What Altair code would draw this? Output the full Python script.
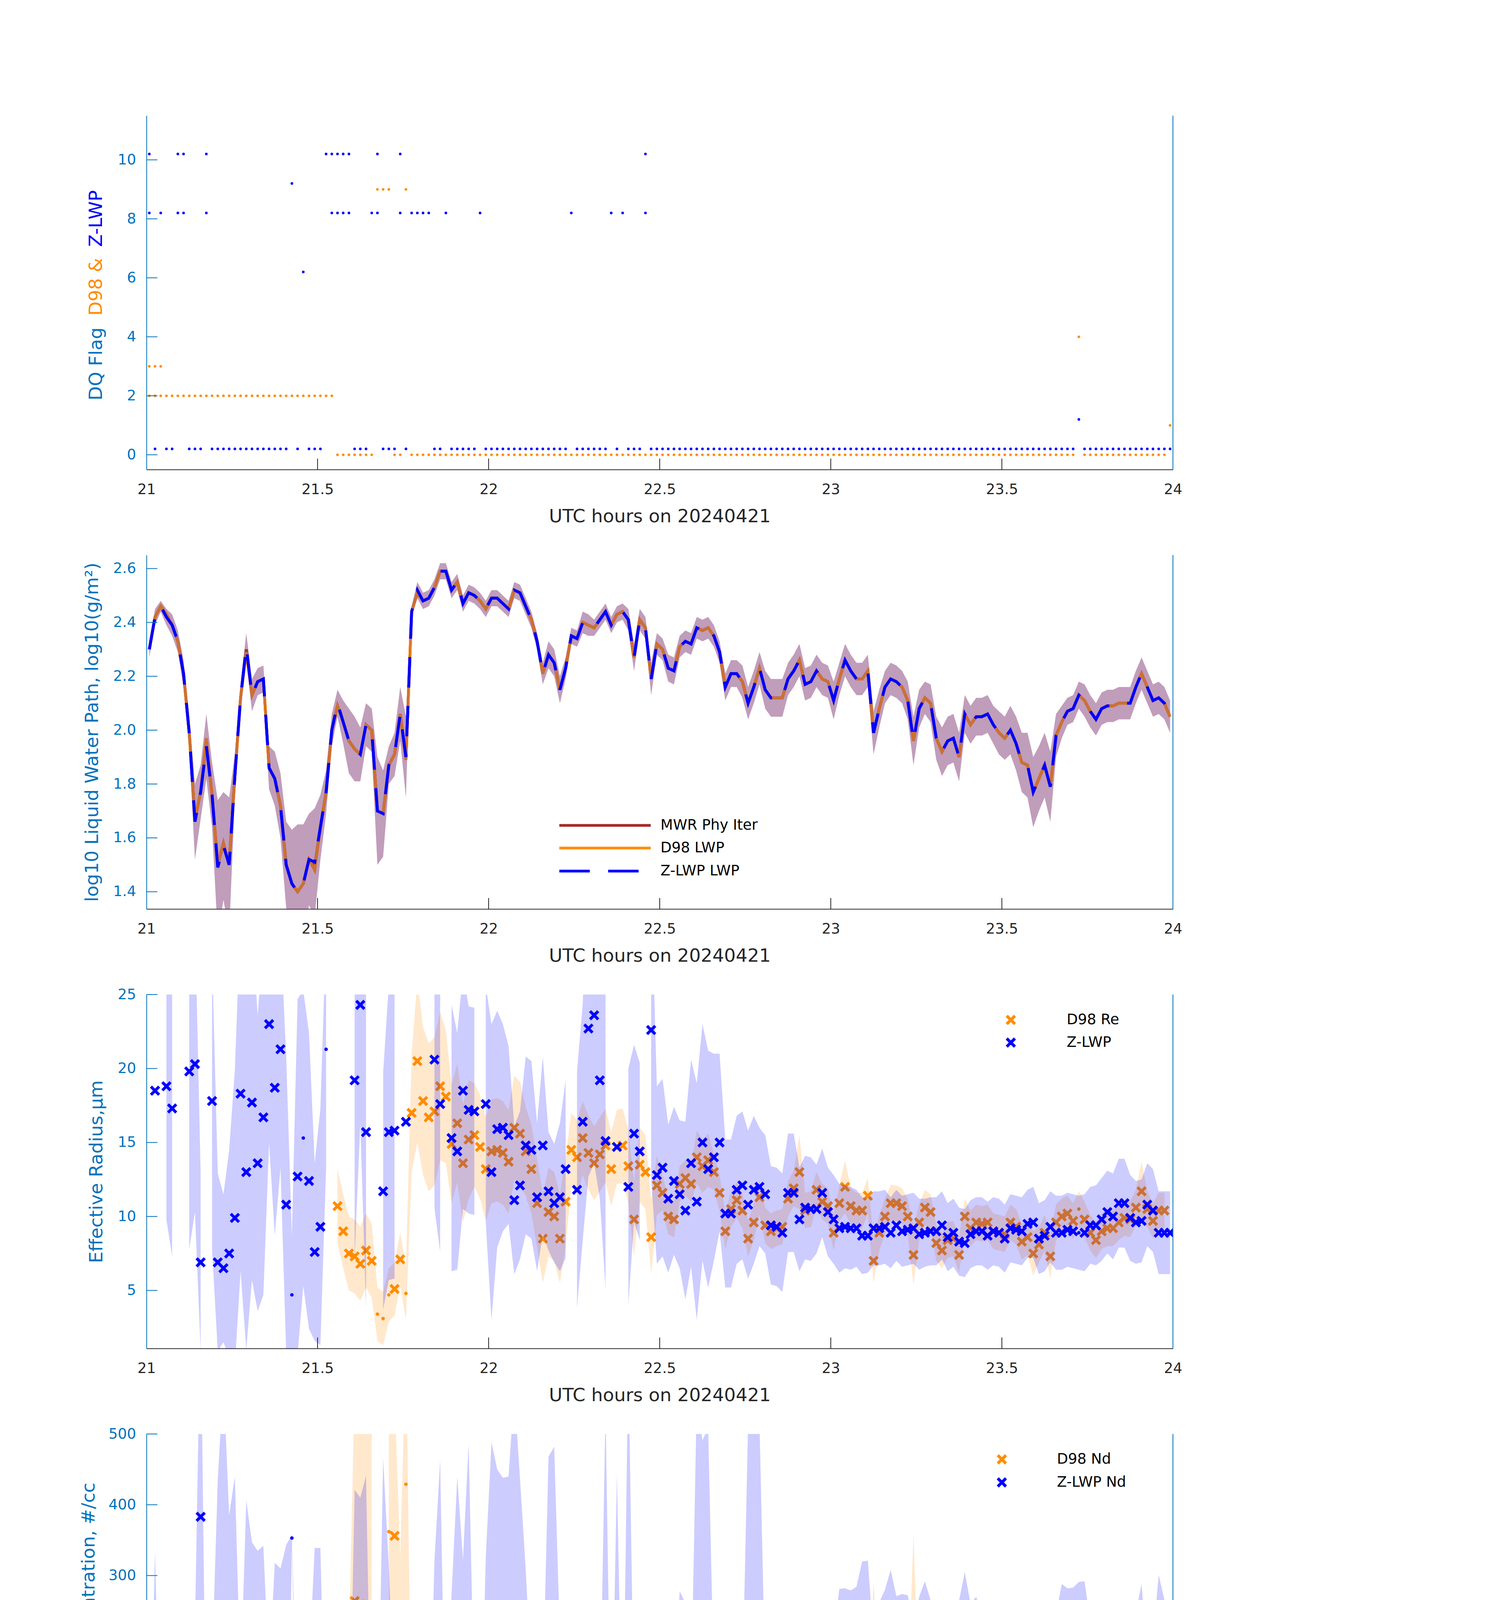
import altair as alt
import pandas as pd

# ---------------- data (one value per minute, 21:00-24:00 UTC) ----------------
N = 180
T = [21 + (i + 0.5) / 60 for i in range(N)]
X_TICKS = [21, 21.5, 22, 22.5, 23, 23.5, 24]
X_TITLE = "UTC hours on 20240421"

ZLWP_FLAG = [
    10, 0, 8, 0, 0, 10, 10, 0, 0, 0, 10, 0, 0, 0, 0, 0, 0, 0, 0, 0, 0, 0, 0, 0, 0, 9, 0, 6, 0, 0,
    0, 10, 10, 10, 10, 10, 0, 0, 0, 8, 10, 0, 0, 0, 10, 0, 8, 8, 8, 8, 0, 0, 8, 0, 0, 0, 0, 0, 8, 0,
    0, 0, 0, 0, 0, 0, 0, 0, 0, 0, 0, 0, 0, 0, 8, 0, 0, 0, 0, 0, 0, 8, 0, 8, 0, 0, 0, 10, 0, 0,
    0, 0, 0, 0, 0, 0, 0, 0, 0, 0, 0, 0, 0, 0, 0, 0, 0, 0, 0, 0, 0, 0, 0, 0, 0, 0, 0, 0, 0, 0,
    0, 0, 0, 0, 0, 0, 0, 0, 0, 0, 0, 0, 0, 0, 0, 0, 0, 0, 0, 0, 0, 0, 0, 0, 0, 0, 0, 0, 0, 0,
    0, 0, 0, 0, 0, 0, 0, 0, 0, 0, 0, 0, 0, 1, 0, 0, 0, 0, 0, 0, 0, 0, 0, 0, 0, 0, 0, 0, 0, 0]
ZLWP_FLAG2_IDX = [0, 5, 6, 10, 32, 33, 34, 35, 40, 44, 87]   # second flag (8) at these minutes
D98_FLAG = [
    2, 2, 2, 2, 2, 2, 2, 2, 2, 2, 2, 2, 2, 2, 2, 2, 2, 2, 2, 2, 2, 2, 2, 2, 2, 2, 2, 2, 2, 2,
    2, 2, 2, 0, 0, 0, 0, 0, 0, 0, 9, 9, 9, 0, 0, 9, 0, 0, 0, 0, 0, 0, 0, 0, 0, 0, 0, 0, 0, 0,
    0, 0, 0, 0, 0, 0, 0, 0, 0, 0, 0, 0, 0, 0, 0, 0, 0, 0, 0, 0, 0, 0, 0, 0, 0, 0, 0, 0, 0, 0,
    0, 0, 0, 0, 0, 0, 0, 0, 0, 0, 0, 0, 0, 0, 0, 0, 0, 0, 0, 0, 0, 0, 0, 0, 0, 0, 0, 0, 0, 0,
    0, 0, 0, 0, 0, 0, 0, 0, 0, 0, 0, 0, 0, 0, 0, 0, 0, 0, 0, 0, 0, 0, 0, 0, 0, 0, 0, 0, 0, 0,
    0, 0, 0, 0, 0, 0, 0, 0, 0, 0, 0, 0, 0, 4, 0, 0, 0, 0, 0, 0, 0, 0, 0, 0, 0, 0, 0, 0, 0, 1]
D98_FLAG2_IDX = [0, 1, 2]   # second flag (3) at these minutes

LWP_Z = [
    2.30, 2.42, 2.46, 2.42, 2.39, 2.33, 2.21, 1.99, 1.66, 1.77,
    1.94, 1.76, 1.49, 1.57, 1.50, 1.83, 2.12, 2.31, 2.13, 2.18,
    2.19, 1.86, 1.82, 1.72, 1.50, 1.43, 1.40, 1.43, 1.52, 1.51,
    1.64, 1.77, 2.00, 2.10, 2.03, 1.96, 1.93, 1.91, 2.02, 2.00,
    1.70, 1.69, 1.87, 1.91, 2.06, 1.90, 2.44, 2.52, 2.48, 2.49,
    2.53, 2.59, 2.59, 2.52, 2.55, 2.47, 2.51, 2.50, 2.48, 2.45,
    2.49, 2.49, 2.47, 2.45, 2.52, 2.51, 2.46, 2.41, 2.33, 2.21,
    2.28, 2.25, 2.15, 2.23, 2.35, 2.34, 2.40, 2.39, 2.38, 2.41,
    2.44, 2.39, 2.43, 2.44, 2.41, 2.27, 2.41, 2.38, 2.19, 2.32,
    2.30, 2.23, 2.22, 2.31, 2.33, 2.32, 2.38, 2.37, 2.38, 2.35,
    2.29, 2.16, 2.21, 2.21, 2.18, 2.10, 2.16, 2.23, 2.15, 2.12,
    2.12, 2.12, 2.19, 2.22, 2.26, 2.17, 2.18, 2.22, 2.19, 2.18,
    2.11, 2.19, 2.26, 2.22, 2.19, 2.19, 2.22, 1.99, 2.08, 2.16,
    2.19, 2.18, 2.16, 2.11, 1.96, 2.08, 2.12, 2.10, 1.97, 1.92,
    1.96, 1.97, 1.90, 2.06, 2.02, 2.05, 2.05, 2.06, 2.02, 1.99,
    1.97, 2.00, 1.95, 1.88, 1.87, 1.77, 1.82, 1.87, 1.79, 1.98,
    2.03, 2.07, 2.08, 2.13, 2.11, 2.07, 2.04, 2.08, 2.09, 2.09,
    2.10, 2.10, 2.10, 2.16, 2.21, 2.16, 2.11, 2.12, 2.10, 2.05]
LWP_D98 = [
    2.30, 2.42, 2.46, 2.43, 2.39, 2.33, 2.21, 1.99, 1.67, 1.77,
    1.97, 1.76, 1.50, 1.58, 1.50, 1.83, 2.12, 2.29, 2.13, 2.18,
    2.19, 1.86, 1.82, 1.72, 1.50, 1.43, 1.40, 1.43, 1.52, 1.48,
    1.64, 1.77, 2.00, 2.09, 2.03, 1.96, 1.93, 1.91, 2.02, 2.00,
    1.70, 1.69, 1.87, 1.91, 2.06, 1.89, 2.44, 2.51, 2.48, 2.49,
    2.53, 2.59, 2.59, 2.52, 2.55, 2.47, 2.51, 2.50, 2.48, 2.45,
    2.49, 2.49, 2.47, 2.45, 2.52, 2.51, 2.46, 2.41, 2.33, 2.21,
    2.28, 2.25, 2.15, 2.23, 2.35, 2.34, 2.40, 2.39, 2.38, 2.41,
    2.44, 2.39, 2.43, 2.44, 2.41, 2.27, 2.41, 2.38, 2.19, 2.32,
    2.30, 2.23, 2.22, 2.31, 2.33, 2.32, 2.38, 2.37, 2.38, 2.35,
    2.29, 2.16, 2.21, 2.21, 2.18, 2.10, 2.16, 2.23, 2.15, 2.12,
    2.12, 2.12, 2.19, 2.22, 2.26, 2.17, 2.18, 2.22, 2.19, 2.18,
    2.11, 2.19, 2.26, 2.22, 2.19, 2.19, 2.22, 1.99, 2.08, 2.16,
    2.19, 2.18, 2.16, 2.11, 1.96, 2.08, 2.12, 2.10, 1.97, 1.92,
    1.96, 1.97, 1.90, 2.06, 2.02, 2.05, 2.05, 2.06, 2.02, 1.99,
    1.97, 2.00, 1.95, 1.88, 1.87, 1.77, 1.82, 1.87, 1.79, 1.98,
    2.03, 2.07, 2.08, 2.13, 2.11, 2.07, 2.04, 2.08, 2.09, 2.09,
    2.10, 2.10, 2.10, 2.16, 2.21, 2.16, 2.11, 2.12, 2.10, 2.05]
LWP_MWR = [
    2.30, 2.42, 2.46, 2.43, 2.39, 2.33, 2.21, 1.99, 1.67, 1.77,
    1.96, 1.76, 1.50, 1.58, 1.50, 1.83, 2.12, 2.30, 2.13, 2.18,
    2.19, 1.86, 1.82, 1.72, 1.50, 1.43, 1.40, 1.43, 1.52, 1.49,
    1.64, 1.77, 2.00, 2.09, 2.03, 1.96, 1.93, 1.91, 2.02, 2.00,
    1.70, 1.69, 1.87, 1.91, 2.06, 1.89, 2.44, 2.51, 2.48, 2.49,
    2.53, 2.59, 2.59, 2.52, 2.55, 2.47, 2.51, 2.50, 2.48, 2.45,
    2.49, 2.49, 2.47, 2.45, 2.52, 2.51, 2.46, 2.41, 2.33, 2.21,
    2.28, 2.25, 2.15, 2.23, 2.35, 2.34, 2.40, 2.39, 2.38, 2.41,
    2.44, 2.39, 2.43, 2.44, 2.41, 2.27, 2.41, 2.38, 2.19, 2.32,
    2.30, 2.23, 2.22, 2.31, 2.33, 2.32, 2.38, 2.37, 2.38, 2.35,
    2.29, 2.16, 2.21, 2.21, 2.18, 2.10, 2.16, 2.23, 2.15, 2.12,
    2.12, 2.12, 2.19, 2.22, 2.26, 2.17, 2.18, 2.22, 2.19, 2.18,
    2.11, 2.19, 2.26, 2.22, 2.19, 2.19, 2.22, 1.99, 2.08, 2.16,
    2.19, 2.18, 2.16, 2.11, 1.96, 2.08, 2.12, 2.10, 1.97, 1.92,
    1.96, 1.97, 1.90, 2.06, 2.02, 2.05, 2.05, 2.06, 2.02, 1.99,
    1.97, 2.00, 1.95, 1.88, 1.87, 1.77, 1.82, 1.87, 1.79, 1.98,
    2.03, 2.07, 2.08, 2.13, 2.11, 2.07, 2.04, 2.08, 2.09, 2.09,
    2.10, 2.10, 2.10, 2.16, 2.21, 2.16, 2.11, 2.12, 2.10, 2.05]
LWP_ERR = [
    .03, .03, .02, .03, .04, .04, .05, .06, .14, .10,
    .12, .12, .25, .20, .25, .08, .05, .05, .06, .05,
    .05, .08, .10, .12, .16, .20, .25, .22, .17, .20,
    .12, .08, .06, .05, .08, .12, .12, .10, .08, .08,
    .20, .16, .07, .08, .10, .15, .02, .03, .03, .03,
    .03, .03, .03, .03, .03, .03, .03, .03, .03, .03,
    .03, .03, .03, .03, .03, .03, .03, .03, .03, .04,
    .05, .05, .05, .04, .03, .03, .04, .04, .03, .03,
    .03, .03, .03, .03, .04, .05, .04, .04, .06, .04,
    .04, .05, .05, .04, .04, .04, .04, .04, .04, .04,
    .04, .05, .05, .05, .06, .06, .06, .06, .07, .07,
    .07, .07, .06, .06, .06, .06, .06, .06, .06, .06,
    .07, .06, .06, .06, .06, .06, .06, .08, .07, .06,
    .06, .06, .06, .07, .09, .07, .06, .07, .08, .09,
    .09, .09, .09, .07, .07, .07, .07, .07, .07, .08,
    .08, .09, .10, .11, .12, .13, .12, .12, .13, .08,
    .06, .05, .05, .05, .06, .06, .06, .06, .06, .06,
    .06, .06, .06, .06, .06, .06, .06, .06, .06, .06]

RE_Z = [
    None, 18.5, None, 18.8, 17.3, None, None, 19.8, 20.3, 6.9,
    None, 17.8, 6.9, 6.5, 7.5, 9.9, 18.3, 13.0, 17.7, 13.6,
    16.7, 23.0, 18.7, 21.3, 10.8, 4.7, 12.7, 15.3, 12.4, 7.6,
    9.3, 21.3, None, None, None, None, 19.2, 24.3, 15.7, None,
    None, 11.7, 15.7, 15.8, None, 16.4, None, None, None, None,
    20.6, 17.6, None, 15.3, 14.4, 18.5, 17.2, 17.1, None, 17.6,
    13.0, 15.9, 16.0, 15.5, 11.1, 12.1, 14.8, 14.5, 11.3, 14.8,
    11.7, 10.9, 11.3, 13.2, None, 11.8, 16.4, 22.7, 23.6, 19.2,
    15.1, None, 14.7, None, 12.0, 15.6, 14.4, None, 22.6, 12.8,
    13.3, 11.2, 12.4, 11.5, 10.4, 13.6, 11.0, 15.0, 13.2, 14.0,
    15.0, 10.2, 10.2, 11.8, 12.1, 10.8, 11.8, 12.0, 11.5, 9.4,
    9.3, 8.9, 11.6, 11.6, 9.8, 10.6, 10.5, 10.5, 11.6, 10.3,
    9.8, 9.2, 9.3, 9.2, 9.2, 8.7, 8.7, 9.2, 9.2, 9.3,
    8.9, 9.4, 9.0, 9.1, 9.2, 8.8, 8.9, 9.0, 9.0, 9.4,
    8.6, 8.9, 8.3, 8.2, 8.8, 9.0, 9.0, 8.7, 9.0, 8.9,
    8.5, 9.2, 9.1, 9.0, 9.5, 9.6, 8.5, 8.7, 9.3, 8.9,
    8.9, 9.1, 9.0, 8.9, 8.9, 9.4, 9.4, 9.8, 10.3, 10.0,
    10.9, 10.9, 9.9, 9.6, 9.7, 10.8, 10.4, 8.9, 8.9, 8.9]
RE_Z_ERR = [
    0, 8, 0, 9, 10, 0, 0, 12, 10, 6,
    0, 10, 6, 5, 7, 10, 12, 12, 12, 10,
    12, 8, 10, 8, 10, 4, 12, 10, 10, 6,
    8, 8, 0, 0, 0, 0, 12, 8, 12, 0,
    0, 8, 10, 10, 0, 10, 0, 0, 0, 0,
    10, 10, 0, 9, 8, 8, 7, 7, 0, 8,
    10, 8, 7, 6, 5, 5, 6, 6, 5, 6,
    4, 4, 5, 6, 0, 8, 8, 10, 10, 8,
    10, 0, 8, 0, 8, 6, 6, 0, 10, 6,
    6, 5, 5, 5, 6, 7, 8, 8, 8, 7,
    6, 5, 5, 5, 5, 5, 5, 4, 4, 4,
    4, 4, 4, 4, 3.5, 3.5, 3.5, 3, 3, 3,
    3, 3, 2.8, 2.8, 2.6, 2.6, 2.5, 2.5, 2.5, 2.5,
    2.4, 2.4, 2.4, 2.4, 2.4, 2.4, 2.3, 2.3, 2.3, 2.3,
    2.3, 2.3, 2.3, 2.3, 2.3, 2.3, 2.3, 2.3, 2.3, 2.3,
    2.3, 2.3, 2.3, 2.3, 2.3, 2.4, 2.4, 2.4, 2.4, 2.5,
    2.5, 2.5, 2.5, 2.5, 2.6, 2.6, 2.7, 2.8, 2.8, 2.9,
    3.0, 3.0, 2.9, 2.8, 2.8, 2.8, 2.8, 2.8, 2.8, 2.8]
RE_D = [
    None, None, None, None, None, None, None, None, None, None,
    None, None, None, None, None, None, None, None, None, None,
    None, None, None, None, None, None, None, None, None, None,
    None, None, None, 10.7, 9.0, 7.5, 7.3, 6.8, 7.7, 7.0,
    3.4, 3.1, 4.7, 5.1, 7.1, 4.8, 17.0, 20.5, 17.8, 16.7,
    17.1, 18.8, 18.1, 14.9, 16.3, 13.6, 15.2, 15.5, 14.7, 13.2,
    14.4, 14.5, 14.3, 13.7, 16.0, 15.6, 14.4, 13.2, 10.9, 8.5,
    10.3, 10.0, 8.5, 11.0, 14.5, 14.0, 15.3, 14.3, 13.6, 14.2,
    14.8, 13.2, 14.7, 14.8, 13.4, 9.8, 13.5, 13.0, 8.6, 12.1,
    11.6, 10.0, 9.8, 12.2, 12.6, 12.2, 14.0, 13.4, 13.8, 13.0,
    11.6, 9.0, 10.5, 11.1, 10.4, 8.5, 9.6, 11.3, 9.4, 9.0,
    9.2, 9.3, 11.2, 11.9, 13.0, 10.4, 10.5, 11.8, 11.0, 10.7,
    8.9, 10.9, 12.0, 10.7, 10.4, 10.4, 11.4, 7.0, 8.9, 10.0,
    10.9, 10.9, 10.7, 10.0, 7.4, 9.6, 10.6, 10.3, 8.2, 7.7,
    8.4, 8.5, 7.4, 10.0, 9.2, 9.6, 9.5, 9.6, 9.0, 8.9,
    8.8, 9.6, 9.3, 8.3, 8.6, 7.5, 8.1, 8.9, 7.3, 9.6,
    10.0, 10.2, 9.7, 10.5, 9.8, 8.9, 8.4, 9.0, 9.2, 9.2,
    9.6, 9.9, 9.8, 10.6, 11.7, 10.5, 9.7, 10.4, 10.4, None]
RE_D_ERR = [
    0, 0, 0, 0, 0, 0, 0, 0, 0, 0,
    0, 0, 0, 0, 0, 0, 0, 0, 0, 0,
    0, 0, 0, 0, 0, 0, 0, 0, 0, 0,
    0, 0, 0, 2.5, 2.5, 2.5, 2.5, 2.5, 2.5, 2.5,
    1.8, 1.8, 1.8, 1.8, 1.8, 1.8, 4, 5.5, 5, 5,
    5, 5, 4.5, 4, 4, 4, 4, 3.5, 3.5, 3.5,
    3.5, 3.5, 3.5, 3.5, 3.5, 3.5, 3, 3, 3, 3,
    3, 3, 3, 3, 2.5, 2.5, 2.5, 2.5, 2.5, 2.5,
    2.5, 2.5, 2.5, 2.5, 2.5, 2.5, 2.5, 2.5, 2.5, 2,
    1.2, 1.2, 1.2, 1.2, 1.2, 1.2, 1.8, 1.8, 1.8, 1.2,
    1.2, 1.2, 1.2, 1.2, 1.2, 1.2, 1.2, 1.2, 1.2, 1.2,
    1.2, 1.2, 1.2, 1.2, 2.5, 1.2, 1.2, 1.2, 1.2, 1.2,
    1.2, 1.2, 1.8, 1.2, 1.2, 1.2, 1.2, 1.5, 1.2, 1.2,
    1.2, 1.2, 1.2, 1.2, 2.0, 1.2, 1.2, 1.2, 1.2, 1.2,
    1.2, 1.2, 1.2, 1.2, 1.2, 1.2, 1.2, 1.2, 1.2, 1.2,
    1.2, 1.2, 1.2, 1.2, 1.2, 1.5, 1.2, 1.2, 1.5, 1.2,
    1.2, 1.2, 1.2, 1.2, 1.2, 1.2, 1.2, 1.2, 1.2, 1.2,
    1.2, 1.2, 1.2, 1.2, 2.0, 1.2, 1.2, 1.2, 1.2, 1.2]

ND_Z = [
    1, 84, 8, 52, 74, 5.5, 3.8, 14, 8, 383,
    3.8, 23, 135, 228, 85, 140, 25, 206, 47, 85,
    42, 10, 18, 10, 43, 353, 7, 8, 18, 39,
    39, 5, 4, 3, 4, 2, 21, 10, 41, 7,
    2.5, 66, 12, 20, 2.5, 13, 16, 21, 12, 7,
    21, 63, 6, 124, 139, 23, 87, 46, 11, 26,
    88, 50, 38, 40, 161, 137, 50, 47, 84, 32,
    68, 82, 63, 56, 6, 87, 35, 15, 13, 23,
    136, 8, 144, 13, 213, 28, 56, 5, 11, 58,
    51, 82, 52, 78, 141, 47, 101, 41, 59, 48,
    39, 93, 108, 69, 59, 67, 67, 67, 63, 116,
    117, 134, 68, 68, 132, 83, 89, 95, 68, 100,
    96, 141, 142, 139, 144, 170, 181, 90, 122, 130,
    168, 141, 144, 142, 114, 140, 152, 135, 105, 95,
    134, 124, 135, 165, 130, 150, 126, 142, 134, 129,
    144, 117, 114, 98, 83, 65, 129, 126, 72, 125,
    148, 142, 133, 151, 152, 115, 105, 96, 83, 91,
    70, 71, 97, 119, 138, 74, 88, 151, 136, 125]
ND_Z_ERR = [
    2, 250, 5, 150, 120, 5, 5, 200, 220, 300,
    5, 150, 300, 350, 300, 300, 120, 200, 300, 250,
    300, 150, 300, 300, 300, 5, 50, 5, 150, 300,
    300, 5, 5, 5, 5, 5, 400, 400, 400, 5,
    5, 400, 300, 100, 5, 60, 5, 5, 5, 5,
    300, 400, 5, 150, 300, 300, 400, 60, 5, 300,
    400, 400, 400, 400, 400, 300, 260, 100, 150, 100,
    400, 400, 150, 100, 5, 150, 70, 30, 30, 60,
    400, 5, 300, 5, 400, 60, 80, 5, 30, 60,
    60, 70, 60, 200, 120, 80, 450, 450, 450, 100,
    90, 100, 90, 80, 80, 450, 450, 450, 90, 100,
    110, 120, 80, 80, 120, 100, 100, 100, 100, 110,
    120, 140, 140, 140, 140, 150, 140, 120, 140, 150,
    140, 130, 130, 130, 120, 130, 140, 130, 110, 100,
    130, 130, 130, 140, 130, 120, 120, 120, 120, 120,
    110, 100, 100, 100, 100, 90, 120, 120, 100, 120,
    140, 140, 150, 140, 140, 120, 110, 100, 100, 100,
    90, 90, 100, 130, 150, 110, 120, 150, 130, 130]
ND_D = [
    None, None, None, None, None, None, None, None, None, None,
    None, None, None, None, None, None, None, None, None, None,
    None, None, None, None, None, None, None, None, None, None,
    None, None, None, 46, 57, 87, 264, 259, 220, 220,
    None, None, 362, 356, 127, 429, 32, 19, 25, 31,
    34, 28, 28, 46, 41, 57, 48, 44, 48, 59,
    49, 54, 53, 58, 37, 41, 52, 56, 94, 156,
    93, 110, 144, 83, 46, 51, 46, 48, 54, 53,
    42, 59, 48, 42, 54, 102, 56, 66, 160, 76,
    76, 106, 111, 68, 68, 64, 48, 53, 49, 54,
    70, 143, 91, 82, 95, 138, 112, 73, 112, 115,
    116, 116, 73, 59, 59, 95, 87, 71, 81, 87,
    122, 79, 59, 86, 96, 96, 81, 191, 129, 94,
    78, 78, 80, 94, 210, 100, 81, 82, 120, 167,
    141, 133, 175, 83, 116, 116, 114, 95, 126, 106,
    131, 92, 99, 131, 120, 144, 138, 99, 155, 84,
    99, 86, 96, 86, 99, 117, 130, 116, 107, 104,
    92, 91, 92, 84, 66, 78, 91, 91, 78, None]
ND_D_ERR = [
    0, 0, 0, 0, 0, 0, 0, 0, 0, 0,
    0, 0, 0, 0, 0, 0, 0, 0, 0, 0,
    0, 0, 0, 0, 0, 0, 0, 0, 0, 0,
    0, 0, 0, 40, 50, 120, 300, 300, 300, 300,
    0, 0, 200, 200, 200, 200, 20, 20, 20, 20,
    20, 20, 20, 30, 35, 35, 35, 35, 35, 35,
    35, 35, 35, 35, 35, 35, 35, 40, 80, 100,
    80, 80, 100, 60, 35, 35, 35, 35, 35, 35,
    35, 35, 35, 35, 35, 60, 40, 40, 80, 40,
    30, 30, 30, 30, 30, 30, 30, 30, 30, 30,
    30, 60, 30, 30, 30, 50, 30, 30, 30, 30,
    30, 30, 30, 30, 30, 30, 30, 30, 30, 30,
    30, 30, 30, 30, 30, 30, 30, 100, 30, 30,
    30, 30, 30, 30, 150, 30, 30, 30, 30, 80,
    30, 30, 60, 30, 30, 30, 30, 30, 30, 30,
    30, 30, 30, 30, 30, 70, 30, 30, 70, 30,
    30, 30, 30, 30, 30, 30, 30, 30, 30, 30,
    30, 30, 30, 30, 30, 30, 30, 30, 30, 30]

OD_Z = [
    8.0, 22.2, 13.0, 21.5, 21.4, 9.3, 6.9, 7.2, 3.6, 13.0,
    5.2, 5.0, 7.0, 9.4, 6.5, 10.3, 10.7, 25.1, 12.0, 16.7,
    14.3, 4.8, 5.5, 3.7, 4.8, 9.2, 3.1, 2.7, 4.2, 6.2,
    7.3, 4.4, 6.1, 5.8, 6.2, 4.4, 6.9, 5.3, 10.7, 6.1,
    2.7, 6.5, 7.3, 8.0, 6.0, 7.4, 16.5, 19.1, 17.0, 16.2,
    25.2, 34.0, 17.5, 33.0, 38.6, 24.4, 28.8, 28.7, 17.9, 24.3,
    36.3, 29.4, 28.0, 27.6, 45.3, 41.3, 30.3, 27.4, 28.3, 16.7,
    24.7, 24.4, 19.1, 19.8, 11.2, 28.2, 23.3, 16.7, 15.4, 20.5,
    28.0, 14.1, 27.9, 14.2, 31.7, 18.1, 27.4, 10.3, 10.4, 24.6,
    22.6, 22.8, 20.0, 26.9, 31.4, 23.1, 33.0, 23.7, 27.4, 24.5,
    19.5, 21.3, 23.8, 21.1, 18.9, 17.3, 18.8, 21.6, 18.5, 21.6,
    21.5, 22.3, 20.8, 21.8, 28.4, 20.9, 21.8, 23.9, 20.3, 22.5,
    20.0, 27.4, 30.4, 27.5, 25.9, 27.1, 29.4, 16.2, 21.1, 23.8,
    27.1, 25.0, 24.4, 22.4, 15.2, 21.2, 23.1, 21.5, 16.1, 13.5,
    15.8, 15.9, 14.6, 21.4, 18.3, 19.3, 18.8, 20.0, 17.4, 16.9,
    16.6, 16.9, 15.3, 12.7, 11.9, 9.5, 11.7, 13.0, 10.0, 16.1,
    18.3, 19.9, 20.7, 23.5, 22.3, 19.2, 18.0, 18.8, 18.1, 18.7,
    17.5, 17.6, 19.7, 23.0, 25.9, 20.5, 19.0, 22.6, 21.5, 19.2]
OD_Z_ERR = [
    1, 12, 1, 15, 15, 1, 1, 4, 3, 20,
    1, 3, 4, 20, 5, 25, 25, 20, 10, 10,
    8, 30, 30, 2, 3, 1, 2, 1, 3, 15,
    20, 1, 1, 1, 1, 1, 30, 5, 30, 1,
    1, 30, 5, 4, 1, 4, 12, 12, 12, 12,
    30, 15, 1, 15, 10, 8, 15, 15, 1, 6,
    10, 10, 8, 8, 20, 15, 8, 10, 10, 12,
    10, 10, 6, 5, 1, 20, 6, 5, 5, 6,
    25, 1, 25, 1, 10, 8, 10, 1, 10, 6,
    6, 6, 6, 10, 12, 14, 18, 14, 12, 8,
    6, 5, 5, 5, 5, 5, 5, 5, 5, 5,
    6, 6, 6, 6, 6, 5, 5, 5, 5, 5,
    6, 7, 8, 8, 7, 7, 7, 6, 6, 6,
    6, 6, 6, 6, 5, 5, 5, 5, 5, 5,
    4, 4, 4, 4, 4, 4, 4, 4, 4, 4,
    4, 4, 4, 4, 4, 4, 4, 4, 4, 4,
    5, 5, 5, 5, 5, 5, 5, 5, 5, 5,
    5, 5, 5, 6, 6, 5, 5, 5, 5, 5]
OD_D = [
    None, None, None, None, None, None, None, None, None, None,
    None, None, None, None, None, None, None, None, None, None,
    None, None, None, None, None, None, None, None, None, None,
    None, None, None, 17.9, 18.4, 18.3, 17.5, 18.2, 20.3, 21.5,
    22.1, 23.5, 23.8, 24.2, 24.8, 24.3, 24.0, 24.2, 25.3, 27.6,
    29.7, 31.0, 31.8, 32.8, 33.0, 32.7, 31.7, 31.1, 31.3, 31.9,
    32.1, 31.6, 31.2, 31.2, 31.2, 31.1, 30.5, 29.5, 29.1, 28.5,
    27.4, 26.3, 24.8, 23.5, 23.1, 23.5, 24.8, 25.7, 26.4, 27.3,
    27.7, 27.6, 27.5, 27.6, 28.2, 28.7, 28.5, 27.5, 26.7, 25.9,
    25.7, 25.1, 25.0, 25.3, 25.5, 25.7, 25.9, 26.0, 26.3, 25.9,
    24.9, 23.9, 22.8, 22.1, 21.8, 21.8, 22.5, 22.9, 22.5, 21.8,
    21.4, 21.2, 21.1, 21.4, 21.2, 21.2, 21.5, 21.4, 21.5, 21.5,
    21.6, 22.6, 23.1, 23.1, 22.6, 22.4, 22.1, 21.4, 21.5, 21.8,
    21.5, 20.9, 20.3, 19.7, 18.7, 18.9, 18.9, 18.3, 17.2, 16.4,
    16.3, 16.2, 16.2, 17.3, 17.3, 17.6, 17.7, 17.6, 17.2, 16.6,
    15.8, 15.5, 14.8, 13.8, 12.8, 11.9, 12.1, 12.8, 12.6, 14.7,
    16.2, 17.5, 18.7, 19.5, 19.5, 19.7, 19.5, 19.8, 19.8, 19.7,
    19.5, 19.4, 19.8, 20.6, 21.1, 20.6, 19.8, 19.0, 18.3, None]
OD_D_ERR = [
    0, 0, 0, 0, 0, 0, 0, 0, 0, 0,
    0, 0, 0, 0, 0, 0, 0, 0, 0, 0,
    0, 0, 0, 0, 0, 0, 0, 0, 0, 0,
    0, 0, 0, 5, 5, 5, 5, 5, 5, 5,
    6, 6, 6, 6, 6, 6, 6, 6, 6, 6,
    7, 7, 7, 7, 7.5, 7.5, 7, 7, 7, 7,
    7, 6.5, 6.5, 6.5, 6, 6, 6, 6, 6, 6,
    5.5, 5, 5, 5, 5, 5, 5, 5, 5, 5,
    5, 5, 5, 5, 5, 5, 5, 4, 4, 3,
    2.5, 2.5, 2.2, 2.2, 2.2, 2.2, 2.2, 2.2, 2.2, 2.2,
    2, 2, 2, 2, 2, 2, 2, 2, 2, 2,
    2, 2, 2, 2, 2, 2, 2, 2, 2, 2,
    2, 2, 2, 2, 2, 2, 2, 2, 2, 2,
    2, 2, 2, 2, 2, 2, 2, 2, 2, 2,
    2, 2, 2, 2, 2, 2, 2, 2, 2, 2,
    2, 2, 2, 2, 2, 2, 2, 2, 2, 2,
    2, 2, 2, 2, 2, 2, 2, 2, 2, 2,
    2, 2, 2, 2, 2, 2, 2, 2, 2, 2]

# ---------------- styling ----------------
FONT = "DejaVu Sans"
W, H = 2628, 906
AX = "#0072BD"
DARK = "#262626"
ORANGE = "#FF8C00"
BLUE = "#0000FF"
RED = "#A52A2A"
XPATH = "M-1,-1L1,1M1,-1L-1,1"
XSIZE, XSTROKE = 440, 7.5
XS = alt.Scale(domain=[21, 24], nice=False, zero=False)


def one():
    return alt.Chart(alt.Data(values=[{}]))


def xax():
    return alt.X("t:Q", scale=XS,
                 axis=alt.Axis(values=X_TICKS, format="~g", title=X_TITLE))


def xplain():
    return alt.X("t:Q", scale=XS)


def yax(field, ysc, vals, fmt, title, tx):
    if title:
        ax = alt.Axis(values=vals, format=fmt, title=title, titleX=tx)
    else:
        ax = alt.Axis(values=vals, format=fmt, title="")
    return alt.Y(f"{field}:Q", scale=ysc, axis=ax)


def ticks(ysc, yvals):
    ylay = alt.Chart(pd.DataFrame({"yt": yvals})).mark_rule(color=AX, strokeWidth=2).encode(
        y=alt.Y("yt:Q", scale=ysc), x=alt.value(0), x2=alt.value(28))
    xlay = alt.Chart(pd.DataFrame({"xt": X_TICKS[1:-1]})).mark_rule(color=DARK, strokeWidth=2).encode(
        x=alt.X("xt:Q", scale=XS), y=alt.value(H), y2=alt.value(H - 28))
    right = one().mark_rule(color=AX, strokeWidth=2).encode(
        x=alt.value(W), y=alt.value(0), y2=alt.value(H))
    return [ylay, xlay, right]


def series_df(vals, errs, flags):
    rows, seg, prev = [], 0, False
    for i, v in enumerate(vals):
        if v is None:
            if prev:
                seg += 1
            prev = False
            continue
        prev = True
        rows.append(dict(t=T[i], v=v, lo=v - errs[i], hi=v + errs[i], seg=seg,
                         mk="x" if flags[i] == 0 else "dot"))
    return pd.DataFrame(rows)


def band(df, ysc, color, axis_args=None):
    if axis_args:
        ye = yax("lo", ysc, *axis_args)
        xe = xax()
    else:
        ye = alt.Y("lo:Q", scale=ysc)
        xe = xplain()
    return alt.Chart(df).mark_area(color=color, opacity=0.2, clip=True).encode(
        x=xe, y=ye, y2="hi:Q", detail="seg:N")


def xmarks(df, ysc, color):
    return alt.Chart(df).transform_filter(alt.datum.mk == "x").mark_point(
        shape=XPATH, size=XSIZE, strokeWidth=XSTROKE, filled=False, opacity=1, color=color,
        clip=True).encode(x=xplain(), y=alt.Y("v:Q", scale=ysc))


def dots(df, ysc, color):
    return alt.Chart(df).transform_filter(alt.datum.mk == "dot").mark_circle(
        size=80, opacity=1, color=color, clip=True).encode(
        x=xplain(), y=alt.Y("v:Q", scale=ysc))


def legend_xy(x, y1, y2, tx, lab1, lab2):
    out = []
    for y, col, lab in ((y1, ORANGE, lab1), (y2, BLUE, lab2)):
        out.append(one().mark_point(shape=XPATH, size=XSIZE, strokeWidth=XSTROKE, filled=False,
                                    opacity=1, color=col).encode(x=alt.value(x), y=alt.value(y)))
        out.append(one().mark_text(align="left", baseline="middle", font=FONT, fontSize=37,
                                   color="black").encode(x=alt.value(tx), y=alt.value(y),
                                                         text=alt.value(lab)))
    return out


def retrieval_panel(zv, ze, dv, de, dom, yvals, title, tx, leg):
    ysc = alt.Scale(domain=dom, nice=False, zero=False)
    zdf = series_df(zv, ze, ZLWP_FLAG)
    ddf = series_df(dv, de, D98_FLAG)
    layers = [band(ddf, ysc, ORANGE, (yvals, "d", title, tx)),
              xmarks(ddf, ysc, ORANGE), dots(ddf, ysc, ORANGE),
              band(zdf, ysc, BLUE), xmarks(zdf, ysc, BLUE), dots(zdf, ysc, BLUE)]
    layers += ticks(ysc, yvals)
    layers += legend_xy(*leg)
    return alt.layer(*layers).properties(width=W, height=H)


# ---------------- panel 1: DQ flags ----------------
ys1 = alt.Scale(domain=[-0.5, 11.5], nice=False, zero=False)
zrows = [dict(t=T[i], f=ZLWP_FLAG[i] + 0.2) for i in range(N)] + \
        [dict(t=T[i], f=8.2) for i in ZLWP_FLAG2_IDX]
drows = [dict(t=T[i], f=D98_FLAG[i]) for i in range(N)] + \
        [dict(t=T[i], f=3) for i in D98_FLAG2_IDX]
p1_layers = [
    alt.Chart(pd.DataFrame(drows)).mark_circle(size=45, opacity=1, color=ORANGE).encode(
        x=xax(), y=yax("f", ys1, [0, 2, 4, 6, 8, 10], "d", None, 0)),
    alt.Chart(pd.DataFrame(zrows)).mark_circle(size=45, opacity=1, color=BLUE).encode(
        x=xplain(), y=alt.Y("f:Q", scale=ys1)),
]
p1_layers += ticks(ys1, [0, 2, 4, 6, 8, 10])
for txt, col, ypos in (("DQ Flag", AX, 729), ("D98 &", ORANGE, 512), ("Z-LWP", BLUE, 336)):
    p1_layers.append(one().mark_text(angle=270, align="left", baseline="alphabetic", font=FONT,
                                     fontSize=47, color=col).encode(
        x=alt.value(-114), y=alt.value(ypos), text=alt.value(txt)))
# page anchor (white, invisible) fixing the top-left offset of the whole figure
p1_layers.append(one().mark_point(filled=True, size=4, color="white", opacity=1).encode(
    x=alt.value(-366), y=alt.value(-287)))
p1 = alt.layer(*p1_layers).properties(width=W, height=H)

# ---------------- panel 2: LWP ----------------
ys2 = alt.Scale(domain=[1.336, 2.65], nice=False, zero=False)
lwp = pd.DataFrame(dict(t=T, mwr=LWP_MWR, d98=LWP_D98, z=LWP_Z,
                        lo=[v - e for v, e in zip(LWP_Z, LWP_ERR)],
                        hi=[v + e for v, e in zip(LWP_Z, LWP_ERR)]))


def lband(color, first=False):
    if first:
        xe = xax()
        ye = yax("lo", ys2, [1.4, 1.6, 1.8, 2.0, 2.2, 2.4, 2.6], ".1f",
                 "log10 Liquid Water Path, log10(g/m²)", -125)
    else:
        xe = xplain()
        ye = alt.Y("lo:Q", scale=ys2)
    return alt.Chart(lwp).mark_area(color=color, opacity=0.2, clip=True).encode(
        x=xe, y=ye, y2="hi:Q")


def lline(field, color, dash=None):
    kw = dict(color=color, strokeWidth=7.5, clip=True)
    if dash:
        kw["strokeDash"] = dash
    return alt.Chart(lwp).mark_line(**kw).encode(x=xplain(), y=alt.Y(f"{field}:Q", scale=ys2))


p2_layers = [lband(RED, True), lline("mwr", RED), lband(ORANGE), lline("d98", ORANGE),
             lband(BLUE), lline("z", BLUE, [78, 47])]
p2_layers += ticks(ys2, [1.4, 1.6, 1.8, 2.0, 2.2, 2.4, 2.6])
for y, col, lab, dash in ((692, RED, "MWR Phy Iter", None), (750, ORANGE, "D98 LWP", None),
                          (809, BLUE, "Z-LWP LWP", [78, 47])):
    kw = dict(color=col, strokeWidth=7)
    if dash:
        kw["strokeDash"] = dash
    x2 = 1260 if dash else 1291
    p2_layers.append(one().mark_rule(**kw).encode(x=alt.value(1057), x2=alt.value(x2), y=alt.value(y)))
    p2_layers.append(one().mark_text(align="left", baseline="middle", font=FONT, fontSize=37,
                                     color="black").encode(x=alt.value(1316), y=alt.value(y),
                                                           text=alt.value(lab)))
p2 = alt.layer(*p2_layers).properties(width=W, height=H)

# ---------------- panels 3-5 ----------------
p3 = retrieval_panel(RE_Z, RE_Z_ERR, RE_D, RE_D_ERR, [1.08, 25], [5, 10, 15, 20, 25],
                     "Effective Radius,μm", -114, (2213, 65, 123, 2356, "D98 Re", "Z-LWP"))
p4 = retrieval_panel(ND_Z, ND_Z_ERR, ND_D, ND_D_ERR, [0, 500], [0, 100, 200, 300, 400, 500],
                     "Droplet Concentration, #/cc", -134, (2190, 65, 124, 2331, "D98 Nd", "Z-LWP Nd"))
p5 = retrieval_panel(OD_Z, OD_Z_ERR, OD_D, OD_D_ERR, [0.5, 47.5], [5, 10, 15, 20, 25, 30, 35, 40, 45],
                     "Optical Depth", -114, (2190, 65, 123, 2331, "D98 OD", "Z-LWP Nd"))

chart = alt.vconcat(p1, p2, p3, p4, p5, spacing=219, bounds="flush").properties(
    padding=0
).configure(font=FONT).configure_view(
    stroke="transparent", strokeWidth=0
).configure_axis(
    grid=False, ticks=False, tickSize=0, labelFont=FONT, labelFontSize=37,
    titleFont=FONT, titleFontSize=47, titleFontWeight="normal", domainWidth=2,
    labelFlush=False, labelOverlap=False
).configure_axisX(
    labelColor=DARK, domainColor=DARK, titleColor=DARK, labelPadding=33,
    titleY=134, titleBaseline="alphabetic"
).configure_axisY(
    labelColor=AX, domainColor=AX, titleColor=AX, labelPadding=27, titleAngle=270,
    titleY=H / 2, titleBaseline="alphabetic", titleAlign="center"
)

chart.save("out.html", embed_options={"renderer": "svg", "actions": False})
